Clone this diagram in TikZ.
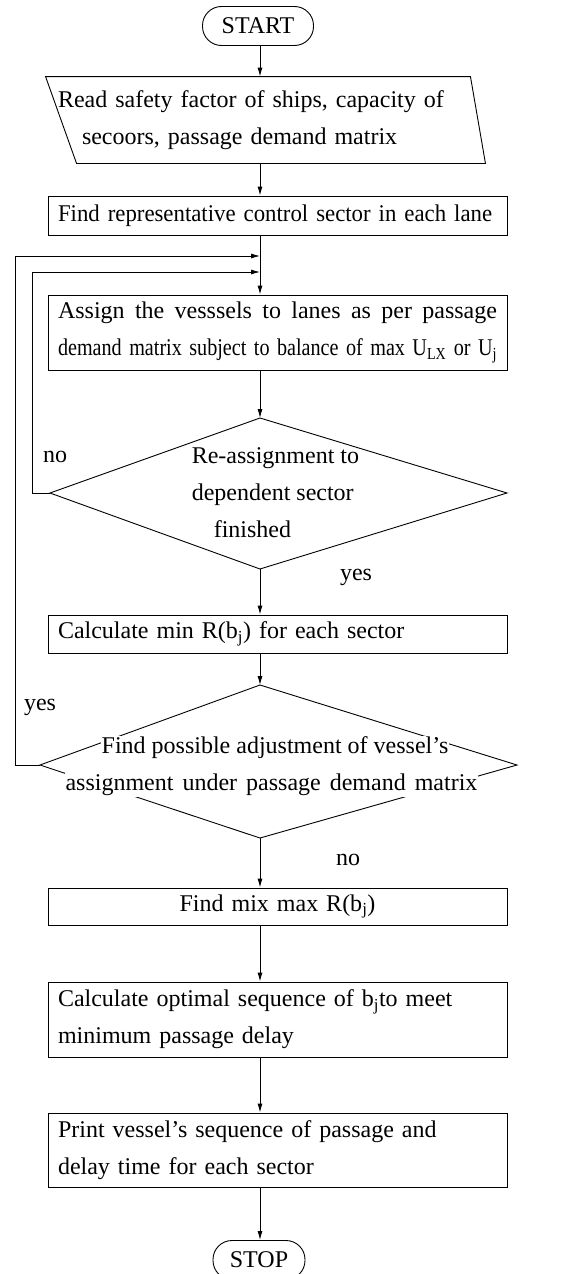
\documentclass[tikz,border=0pt]{standalone}
\usepackage{fontspec}
\setmainfont{Liberation Serif}
\newfontfamily\narrowfont[FakeStretch=0.95]{Liberation Serif}
\newfontfamily\condfont[FakeStretch=0.84]{Liberation Serif}
\newcommand{\fillline}[1]{{\spaceskip=6pt plus 1fil\relax\makebox[439pt][s]{#1}}}
\usetikzlibrary{arrows.meta}

\begin{document}
\begin{tikzpicture}[x=1pt,y=-1pt,line width=0.9pt,
    every node/.style={font=\fontsize{24}{37}\selectfont},
    term/.style={draw,rounded corners=19pt,minimum height=39pt},
    procbox/.style={draw,minimum width=459pt,text width=439pt,inner xsep=10pt,align=left},
    dectext/.style={fill=white,inner sep=1pt},
    flow/.style={-{Latex[length=9pt,width=5pt]}}]
    \useasboundingbox (0,0) rectangle (561,1274);
    \coordinate (axis) at (260,0);
    \node[term,minimum width=111pt] (start) at (258,26) {START};
    % input: slanted box drawn from the corners of an empty frame
    \node[minimum width=439pt,minimum height=86pt,text width=415pt,inner xsep=12pt,align=left] (read) at (265.5,120) {Read safety factor of ships, capacity of\\\hspace*{24pt}secoors, passage demand matrix};
    \draw (read.north west) -- ([xshift=-15pt]read.north east) -- (read.south east) -- ([xshift=31pt]read.south west) -- cycle;
    \node[procbox,minimum height=39pt] (find) at (277.5,215.5) {\narrowfont Find representative control sector in each lane};
    \node[procbox,minimum height=75pt] (assign) at (277.5,332.5) {\fillline{Assign the vesssels to lanes as per passage}\\{\condfont\fillline{demand matrix subject to balance of max U\textsubscript{LX} or U\textsubscript{j}}}};
    % first check: kite drawn from its corners
    \coordinate (chk1-n) at (260,418);
    \coordinate (chk1-e) at (507,493);
    \coordinate (chk1-s) at (260,569);
    \coordinate (chk1-w) at (50,493);
    \draw (chk1-n) -- (chk1-e) -- (chk1-s) -- (chk1-w) -- cycle;
    \node[anchor=west,align=left] (chk1) at (188,493) {Re-assignment to\\dependent sector\\\hspace*{22pt}finished};
    \node (no1) at (55,457) {no};
    \node (yes1) at (356,577) {yes};
    \node[procbox,minimum height=38pt] (calc) at (277.5,634) {Calculate min R(b\textsubscript{j}) for each sector};
    % second check
    \coordinate (chk2-n) at (260,685);
    \coordinate (chk2-e) at (517,765);
    \coordinate (chk2-s) at (260,838);
    \coordinate (chk2-w) at (40,765);
    \draw (chk2-n) -- (chk2-e) -- (chk2-s) -- (chk2-w) -- cycle;
    \node[dectext] (chk2a) at (275,748) {Find possible adjustment of vessel's};
    \node[dectext] (chk2b) at (271.5,785) {{\spaceskip=9pt plus 2pt\relax assignment under passage demand matrix}};
    \node (yes2) at (40,707) {yes};
    \node (no2) at (348,860) {no};
    \node[procbox,minimum height=37pt,align=center] (mix) at (277.5,906.5) {Find mix max R(b\textsubscript{j})};
    \node[procbox,minimum height=75pt] (optseq) at (277.5,1019.5) {Calculate optimal sequence of b\textsubscript{j}to meet\\minimum passage delay};
    \node[procbox,minimum height=74pt] (print) at (277.5,1150) {Print vessel's sequence of passage and\\delay time for each sector};
    \node[term,minimum width=92pt] (stop) at (259,1260) {STOP};
    % main flow
    \draw[flow] (start.south -| axis) -- (read.north -| axis);
    \draw[flow] (read.south -| axis) -- (find.north -| axis);
    \draw[flow] (find.south -| axis) -- (assign.north -| axis);
    \draw[flow] (assign.south -| axis) -- (chk1-n);
    \draw[flow] (chk1-s) -- (calc.north -| axis);
    \draw[flow] (calc.south -| axis) -- (chk2-n);
    \draw[flow] (chk2-s) -- (mix.north -| axis);
    \draw[flow] (mix.south -| axis) -- (optseq.north -| axis);
    \draw[flow] (optseq.south -| axis) -- (print.north -| axis);
    \draw[flow] (print.south -| axis) -- (stop.north -| axis);
    % loops back
    \coordinate (join1) at (260,256);
    \coordinate (join2) at (260,272);
    \draw[flow] (chk1-w) -- ++(-18,0) |- (join2);
    \draw[flow] (chk2-w) -- ++(-25,0) |- (join1);
\end{tikzpicture}
\end{document}
